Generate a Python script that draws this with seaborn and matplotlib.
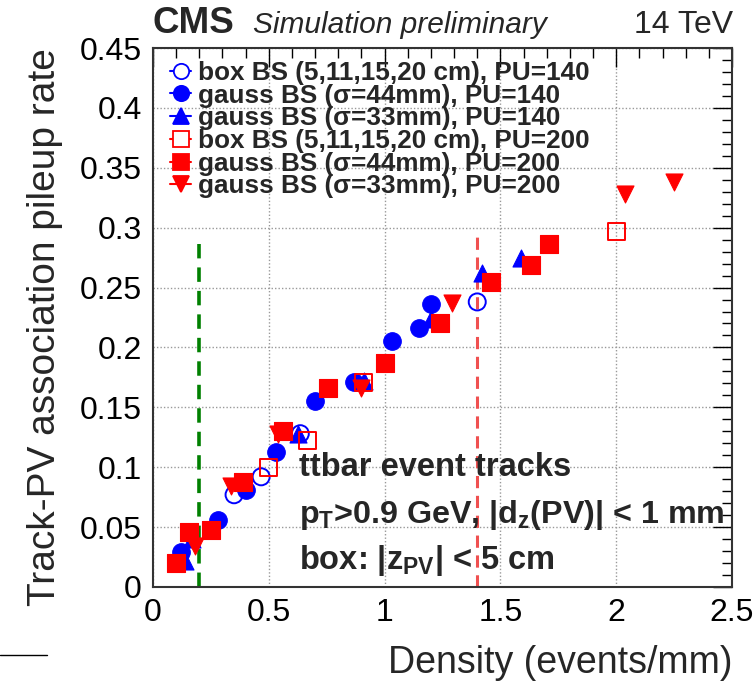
import numpy as np
import pandas as pd
import matplotlib
matplotlib.use("Agg")
import matplotlib.pyplot as plt
import seaborn as sns
from matplotlib.lines import Line2D
from matplotlib.ticker import MultipleLocator, FuncFormatter

# ---------------- data ----------------
box140_x = [0.35, 0.467, 0.636, 1.40]
box140_y = [0.077, 0.092, 0.128, 0.238]

g44_140_x = [0.12, 0.28, 0.40, 0.53, 0.70, 0.87, 1.03, 1.15, 1.20]
g44_140_y = [0.029, 0.056, 0.081, 0.113, 0.155, 0.171, 0.205, 0.216, 0.236]

g33_140_x = [0.14, 0.17, 0.625, 0.91, 1.20, 1.42, 1.59]
g33_140_y = [0.022, 0.040, 0.128, 0.172, 0.224, 0.262, 0.275]

box200_x = [0.50, 0.667, 0.91, 2.00]
box200_y = [0.100, 0.122, 0.171, 0.297]

g44_200_x = [0.10, 0.155, 0.25, 0.39, 0.56, 0.755, 1.00, 1.24, 1.46, 1.63, 1.71]
g44_200_y = [0.020, 0.046, 0.048, 0.088, 0.130, 0.166, 0.187, 0.220, 0.255, 0.269, 0.286]

g33_200_x = [0.18, 0.336, 0.54, 0.90, 1.29, 2.04, 2.25]
g33_200_y = [0.034, 0.084, 0.128, 0.166, 0.237, 0.328, 0.338]

labels = [
    "box BS (5,11,15,20 cm), PU=140",
    "gauss BS (σ=44mm), PU=140",
    "gauss BS (σ=33mm), PU=140",
    "box BS (5,11,15,20 cm), PU=200",
    "gauss BS (σ=44mm), PU=200",
    "gauss BS (σ=33mm), PU=200",
]
xs = [box140_x, g44_140_x, g33_140_x, box200_x, g44_200_x, g33_200_x]
ys = [box140_y, g44_140_y, g33_140_y, box200_y, g44_200_y, g33_200_y]

green_line_x = 0.2
green_line_top = 0.286
red_line_x = 1.4
red_line_top = 0.296

# ---------------- style ----------------
sns.set_style("white")
plt.rcParams["font.family"] = ["Liberation Sans", "DejaVu Sans"]
plt.rcParams["mathtext.fontset"] = "custom"
plt.rcParams["mathtext.rm"] = "Liberation Sans"
plt.rcParams["mathtext.bf"] = "Liberation Sans:bold"
plt.rcParams["mathtext.it"] = "Liberation Sans:italic"

BLUE = "#0000ff"
RED = "#ff0000"
styles = [
    dict(marker="o", color=BLUE, filled=False, s=150),
    dict(marker="o", color=BLUE, filled=True, s=160),
    dict(marker="^", color=BLUE, filled=True, s=150),
    dict(marker="s", color=RED, filled=False, s=150),
    dict(marker="s", color=RED, filled=True, s=170),
    dict(marker="v", color=RED, filled=True, s=150),
]

rows = []
for lab, x, y in zip(labels, xs, ys):
    for xi, yi in zip(x, y):
        rows.append(dict(series=lab, density=xi, rate=yi))
df = pd.DataFrame(rows)

fig = plt.figure(figsize=(7.56, 6.85), dpi=100)
ax = fig.add_axes([153 / 756, 1 - 587 / 685, 579 / 756, 539 / 685])

# grid
ax.set_xlim(0, 2.5)
ax.set_ylim(0, 0.45)
ax.xaxis.set_major_locator(MultipleLocator(0.5))
ax.xaxis.set_minor_locator(MultipleLocator(0.1))
ax.yaxis.set_major_locator(MultipleLocator(0.05))
ax.yaxis.set_minor_locator(MultipleLocator(0.01))
ax.grid(True, which="major", color="#999999", linestyle=(0, (1, 1.5)), linewidth=1.0)
ax.set_axisbelow(True)

for lab, st in zip(labels, styles):
    sub = df[df.series == lab]
    fc = st["color"] if st["filled"] else "none"
    sns.scatterplot(data=sub, x="density", y="rate", ax=ax, marker=st["marker"],
                    s=st["s"], facecolor=fc, edgecolor=st["color"],
                    linewidth=1.4 if not st["filled"] else 0.8, legend=False, zorder=3)

ax.plot([green_line_x, green_line_x], [0, green_line_top], color="#008000",
        linestyle=(0, (4, 2.5)), linewidth=2.6, zorder=2)
ax.plot([red_line_x, red_line_x], [0, red_line_top], color="#f05050",
        linestyle=(0, (4, 2.5)), linewidth=2.2, zorder=2)

# ticks
ax.tick_params(which="both", direction="in", top=True, right=True, width=1.0,
               labelsize=23, pad=8, colors="black")
ax.tick_params(which="major", length=14)
ax.tick_params(which="minor", length=7)
fmt = FuncFormatter(lambda v, p: ("%g" % round(v, 3)))
ax.xaxis.set_major_formatter(fmt)
ax.yaxis.set_major_formatter(fmt)
for sp in ax.spines.values():
    sp.set_color("#333333")
    sp.set_linewidth(1.5)

ax.set_xlabel("Density (events/mm)", fontsize=27, loc="right", labelpad=12)
ax.set_ylabel("Track-PV association pileup rate", fontsize=28, loc="top", labelpad=12)

# legend
handles = []
for lab, st in zip(labels, styles):
    fc = st["color"] if st["filled"] else "white"
    handles.append(Line2D([], [], color=st["color"], marker=st["marker"],
                          markersize=11, markerfacecolor=fc,
                          markeredgecolor=st["color"], markeredgewidth=1.3,
                          linestyle="-", linewidth=1.5))
leg = ax.legend(handles, labels, loc="upper left",
                bbox_to_anchor=(0.03, 0.976), frameon=False, borderpad=0,
                borderaxespad=0, handlelength=0.8, handletextpad=0.25,
                labelspacing=-0.05, prop=dict(family="Liberation Sans", weight="bold", size=18.8))

# annotations
ax.text(0.63, 0.100, "ttbar event tracks", fontsize=23.5, fontweight="bold",
        va="center", ha="left", zorder=5)
ax.text(0.63, 0.060, r"p$_\mathbf{T}$>0.9 GeV, |d$_\mathbf{z}$(PV)| < 1 mm", fontsize=23.2,
        fontweight="bold", va="center", ha="left", zorder=5)
ax.text(0.63, 0.022, r"box: |z$_\mathbf{PV}$| < 5 cm", fontsize=23.5, fontweight="bold",
        va="center", ha="left", zorder=5)

# header
fig.text(153 / 756, 1 - 33 / 685, "CMS", fontsize=26.5, fontweight="bold", ha="left", va="baseline")
fig.text(253 / 756, 1 - 33 / 685, "Simulation preliminary", fontsize=21.5, style="italic",
         ha="left", va="baseline")
fig.text(733 / 756, 1 - 33 / 685, "14 TeV", fontsize=23, ha="right", va="baseline")

fig.add_artist(Line2D([0, 47 / 756], [1 - 655 / 685, 1 - 655 / 685], color="black", linewidth=1))

fig.savefig("out.png", dpi=100)
